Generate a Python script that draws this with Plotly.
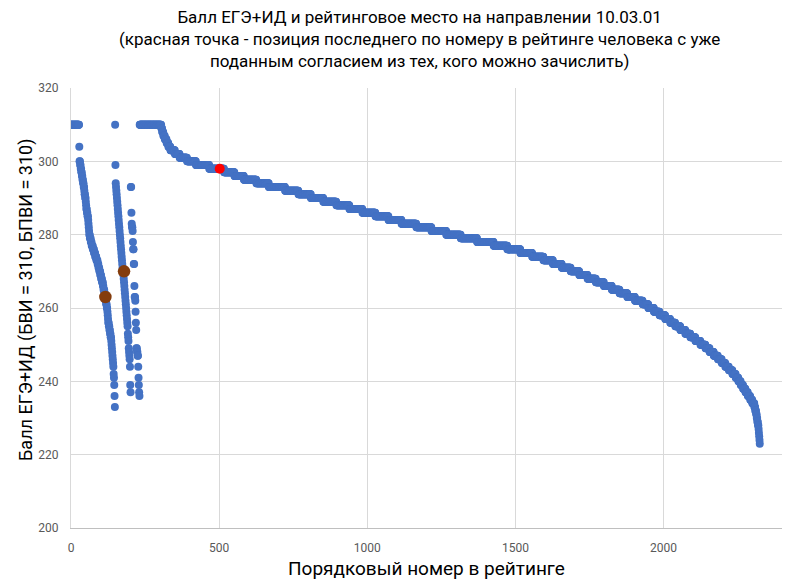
import plotly.graph_objects as go

# ---------------- data ----------------
# Ranking is a sequence of groups; each group lists scores in rank order.
# BVI block at the start of the list
bvi_first_score = 310
bvi_first_count = 27

# first quota column: score -> number of people
col1_scores = [304, 300, 299, 298, 297, 296, 295, 294, 293, 292, 291, 290, 289, 288,
               287, 286, 285, 284, 283, 282, 281, 280, 279, 278, 277, 276, 275, 274,
               273, 272, 271, 270, 269, 268, 267, 266, 265, 264, 263, 262, 261, 260,
               259, 258, 257, 256, 255, 254, 253, 252, 251, 250, 249, 248, 247, 246,
               245, 244, 242, 241, 239, 236, 233]
col1_counts = [1, 2, 2, 2, 2, 2, 2, 2, 2, 1, 2, 2, 1, 1,
               2, 2, 2, 1, 1, 1, 1, 2, 3, 3, 4, 4, 4, 4,
               4, 3, 3, 3, 3, 3, 3, 2, 3, 2, 2, 2, 2, 2,
               1, 1, 1, 2, 2, 2, 2, 2, 1, 1, 1, 1, 1, 1,
               1, 1, 1, 1, 1, 1, 1]

# second quota column (one person per entry)
col2_scores = [310, 299, 294, 293, 292, 291, 290, 289, 288, 287, 286, 285, 284, 283,
               282, 281, 280, 279, 278, 277, 276, 275, 274, 273, 272, 271, 270, 270,
               269, 268, 267, 266, 265, 264, 263, 262, 261, 260, 259, 258, 257, 256,
               255, 253, 252, 251, 249, 248, 247, 246, 244, 239, 237]

# third (sparse) column
col3_scores = [293, 293, 286, 283, 282, 282, 281, 278, 276, 276, 272, 272, 266, 263,
               263, 262, 259, 256, 254, 249, 249, 248, 248, 247, 247, 244, 241, 239,
               237, 236]

# BVI block before the general competition
bvi_second_score = 310
bvi_second_count = 73

# general competition: score -> number of people
main_scores = [309, 308, 307, 306, 305, 304, 303, 302, 301, 300, 299, 298, 297, 296,
               295, 294, 293, 292, 291, 290, 289, 288, 287, 286, 285, 284, 283, 282,
               281, 280, 279, 278, 277, 276, 275, 274, 273, 272, 271, 270, 269, 268,
               267, 266, 265, 264, 263, 262, 261, 260, 259, 258, 257, 256, 255, 254,
               253, 252, 251, 250, 249, 248, 247, 246, 245, 244, 243, 242, 241, 240,
               239, 238, 237, 236, 235, 234, 233, 232, 231, 230, 229, 228, 227, 226,
               225, 224, 223]
main_counts = [3, 4, 5, 6, 6, 7, 15, 16, 25, 30, 45, 50, 35, 32,
               42, 42, 55, 45, 42, 42, 44, 44, 44, 44, 44, 44, 50, 51,
               50, 49, 55, 56, 46, 44, 40, 38, 32, 30, 30, 29, 28, 28,
               27, 27, 26, 26, 26, 26, 19, 19, 19, 19, 17, 17, 17, 17,
               17, 17, 17, 17, 14, 14, 14, 13, 12, 12, 12, 11, 9, 8,
               8, 8, 8, 8, 7, 7, 3, 3, 2, 2, 2, 2, 1, 1,
               1, 1, 1]

# highlighted points
red_rank = [502]
red_score = [298]
brown_rank = [116, 179]
brown_score = [263, 270]

x_ticks = [0, 500, 1000, 1500, 2000]
y_ticks = [200, 220, 240, 260, 280, 300, 320]

title_lines = [
    "Балл ЕГЭ+ИД и рейтинговое место на направлении 10.03.01",
    "(красная точка - позиция последнего по номеру в рейтинге человека с уже",
    "поданным согласием из тех, кого можно зачислить)",
]

# ---------------- build the rank sequence ----------------
scores = []
scores += [bvi_first_score] * bvi_first_count
for s, c in zip(col1_scores, col1_counts):
    scores += [s] * c
scores += col2_scores
scores += col3_scores
scores += [bvi_second_score] * bvi_second_count
for s, c in zip(main_scores, main_counts):
    scores += [s] * c
ranks = list(range(1, len(scores) + 1))

BLUE = "#4472C4"
FONT = "Roboto"
W, H = 798, 585
ML, MR, MT, MB = 71, 16, 88, 57
plot_w = W - ML - MR
plot_h = H - MT - MB

fig = go.Figure()
fig.add_trace(go.Scatter(x=ranks, y=scores, mode="markers",
                         marker=dict(color=BLUE, size=8, line=dict(width=0)),
                         showlegend=False, hoverinfo="x+y"))
fig.add_trace(go.Scatter(x=brown_rank, y=brown_score, mode="markers",
                         marker=dict(color="#843C0C", size=12.5, line=dict(width=0)),
                         showlegend=False))
fig.add_trace(go.Scatter(x=red_rank, y=red_score, mode="markers",
                         marker=dict(color="#FF0000", size=10, line=dict(width=0)),
                         showlegend=False))

# chart title (top at ~6 px from the top of the picture)
fig.add_annotation(
    text="<br>".join(title_lines),
    xref="paper", yref="paper",
    x=(419 - ML) / plot_w, xanchor="center",
    y=(H - MB - 5) / plot_h, yanchor="top",
    showarrow=False, align="center",
    font=dict(family=FONT, size=17, color="#000000"),
)

# y-axis title centred at y ~ 300 px
fig.add_annotation(
    text="Балл ЕГЭ+ИД (БВИ = 310, БПВИ = 310)",
    xref="paper", yref="paper",
    x=(26 - ML) / plot_w, xanchor="center",
    y=(H - MB - 300) / plot_h, yanchor="middle",
    textangle=-90, showarrow=False,
    font=dict(family=FONT, size=18, color="#000000"),
)

# x-axis title centred at y ~ 568 px
fig.add_annotation(
    text="Порядковый номер в рейтинге",
    xref="paper", yref="paper",
    x=0.5, xanchor="center",
    y=(H - MB - 568) / plot_h, yanchor="middle",
    showarrow=False,
    font=dict(family=FONT, size=19, color="#000000"),
)

fig.update_layout(
    width=W, height=H,
    margin=dict(l=ML, r=MR, t=MT, b=MB, autoexpand=False),
    paper_bgcolor="white", plot_bgcolor="white",
    font=dict(family=FONT, color="#404040"),
    xaxis=dict(
        range=[0, 2400], tickvals=x_ticks, showgrid=True, gridcolor="#D9D9D9",
        gridwidth=1, zeroline=False, showline=True, linecolor="#BFBFBF",
        ticks="", ticklabelstandoff=9, automargin=False,
        tickfont=dict(family=FONT, size=12, color="#595959"),
    ),
    yaxis=dict(
        range=[200, 320], tickvals=y_ticks, showgrid=True, gridcolor="#D9D9D9",
        gridwidth=1, zeroline=False, showline=True, linecolor="#D9D9D9",
        ticks="", ticklabelstandoff=9, automargin=False,
        tickfont=dict(family=FONT, size=12, color="#595959"),
    ),
)

fig.write_html("out.html")
